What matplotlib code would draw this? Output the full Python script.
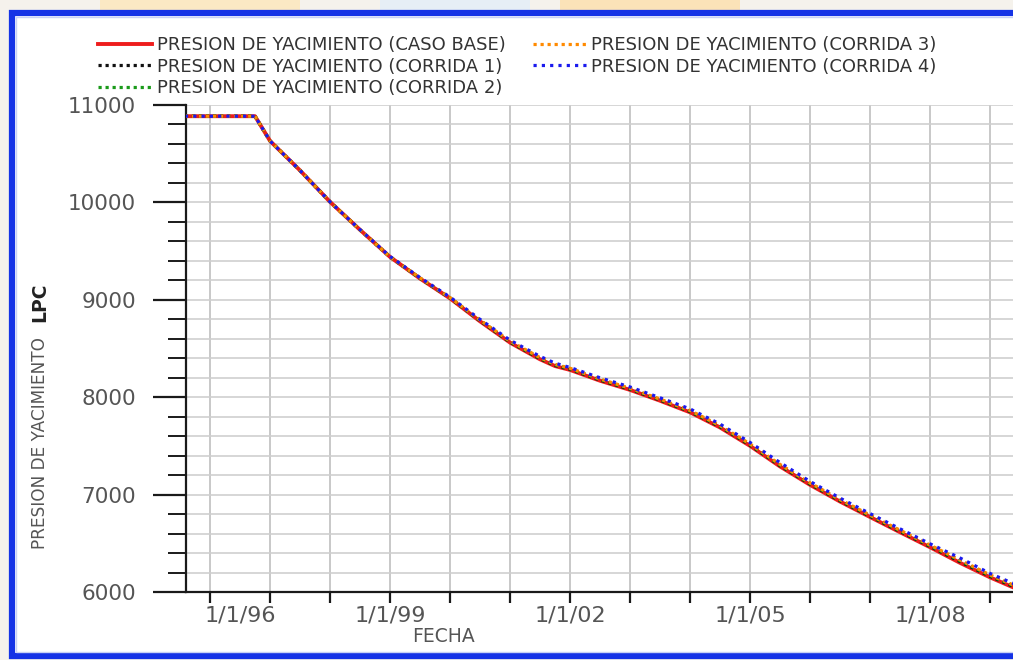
import matplotlib
matplotlib.use("Agg")
import matplotlib.pyplot as plt
import matplotlib.dates as mdates
import matplotlib.transforms as mtransforms
from matplotlib.patches import Rectangle
from matplotlib.ticker import MultipleLocator, FixedLocator

fechas = ['1995-08-01', '1996-10-01', '1997-01-01', '1997-07-01', '1998-01-01',
          '1998-07-01', '1999-01-01', '1999-07-01', '2000-01-01', '2000-07-01',
          '2001-01-01', '2001-07-01', '2001-10-01', '2002-01-01', '2002-07-01',
          '2003-01-01', '2003-07-01', '2004-01-01', '2004-07-01', '2005-01-01',
          '2005-07-01', '2006-01-01', '2006-07-01', '2007-01-01', '2007-07-01',
          '2008-01-01', '2008-07-01', '2009-01-01', '2009-06-01']

caso_base = [10885, 10885, 10630, 10330, 10005, 9720, 9440, 9220, 9015, 8780,
             8560, 8390, 8320, 8280, 8170, 8075, 7965, 7845, 7690, 7500,
             7290, 7100, 6930, 6770, 6615, 6460, 6300, 6150, 6040]
corrida_1 = [10885, 10885, 10630, 10330, 10005, 9720, 9440, 9222, 9018, 8785,
             8565, 8396, 8326, 8286, 8176, 8081, 7971, 7852, 7697, 7507,
             7297, 7107, 6937, 6777, 6622, 6468, 6312, 6160, 6050]
corrida_2 = [10885, 10885, 10630, 10330, 10005, 9720, 9440, 9224, 9020, 8790,
             8570, 8402, 8332, 8292, 8182, 8087, 7977, 7858, 7704, 7514,
             7304, 7114, 6944, 6784, 6630, 6475, 6322, 6168, 6058]
corrida_3 = [10885, 10885, 10630, 10330, 10005, 9720, 9440, 9226, 9022, 8792,
             8575, 8408, 8338, 8297, 8188, 8092, 7982, 7864, 7710, 7520,
             7311, 7120, 6950, 6790, 6636, 6482, 6330, 6175, 6065]
corrida_4 = [10885, 10885, 10630, 10330, 10005, 9722, 9445, 9230, 9028, 8800,
             8585, 8420, 8350, 8305, 8200, 8105, 7995, 7880, 7725, 7535,
             7330, 7135, 6965, 6805, 6650, 6495, 6350, 6190, 6080]

etiquetas = ['PRESION DE YACIMIENTO (CASO BASE)', 'PRESION DE YACIMIENTO (CORRIDA 1)',
             'PRESION DE YACIMIENTO (CORRIDA 2)', 'PRESION DE YACIMIENTO (CORRIDA 3)',
             'PRESION DE YACIMIENTO (CORRIDA 4)']
anios_ticks = list(range(1996, 2010))
anios_etiqueta = [1996, 1999, 2002, 2005, 2008]

W, H = 1013, 660
fig = plt.figure(figsize=(W / 100, H / 100), dpi=100)
fig.patch.set_facecolor('#f5f2ec')

# faded background strip above the frame
for (xa, wa, col) in [(100, 200, '#fbe9c4'), (560, 180, '#fbe3b8'), (380, 150, '#e6eef6')]:
    fig.add_artist(Rectangle((xa / W, 1 - 12 / H), wa / W, 12 / H, transform=fig.transFigure,
                             facecolor=col, edgecolor='none', zorder=-3))
# white panel with blue frame
fig.add_artist(Rectangle((12 / W, 1 - 656 / H), 1.1, 643 / H, transform=fig.transFigure,
                         facecolor='white', edgecolor='#1533e6', linewidth=4.5, zorder=-2))
fig.add_artist(Rectangle((16 / W, 1 - 652 / H), 1.1, 635 / H, transform=fig.transFigure,
                         facecolor='none', edgecolor='#c9d2f5', linewidth=1.0, zorder=-1))

ax_left, ax_right = 186, 1013
ax_top, ax_bottom = 105, 592
ax = fig.add_axes([ax_left / W, 1 - ax_bottom / H, (ax_right - ax_left) / W, (ax_bottom - ax_top) / H])
ax.set_facecolor('white')

x = mdates.datestr2num(fechas)
estilos = [
    (caso_base, dict(color='#ee1c1c', lw=2.8, ls='-')),
    (corrida_1, dict(color='#111111', lw=2.3, ls=(0, (1, 1.2)))),
    (corrida_2, dict(color='#1a9a1a', lw=2.3, ls=(0, (1, 1.2)))),
    (corrida_3, dict(color='#ff8a00', lw=2.3, ls=(0, (1, 1.2)))),
    (corrida_4, dict(color='#1a1aee', lw=2.3, ls=(0, (1, 1.6)))),
]
handles = []
for (serie, st), lab in zip(estilos, etiquetas):
    h, = ax.plot(x, serie, label=lab, zorder=3, **st)
    handles.append(h)

x0 = mdates.datestr2num('1996-01-01') - 0.4 * 365.25
x1 = mdates.datestr2num('1996-01-01') + (803 / 60) * 365.25
ax.set_xlim(x0, x1)
ax.set_ylim(6000, 11000)

xt = [mdates.datestr2num(f'{a}-01-01') for a in anios_ticks]
ax.xaxis.set_major_locator(FixedLocator(xt))
ax.set_xticklabels([f'1/1/{a % 100:02d}' if a in anios_etiqueta else '' for a in anios_ticks])
ax.yaxis.set_major_locator(MultipleLocator(1000))
ax.yaxis.set_minor_locator(MultipleLocator(200))

ax.grid(True, which='major', axis='x', color='#c4c4c4', lw=1.3)
ax.grid(True, which='both', axis='y', color='#cfcfcf', lw=1.2)
ax.set_axisbelow(True)

for s in ['top', 'right']:
    ax.spines[s].set_visible(False)
for s in ['left', 'bottom']:
    ax.spines[s].set_color('#1a1a1a')
    ax.spines[s].set_linewidth(1.6)

ax.tick_params(axis='y', which='major', length=24, width=1.6, color='#1a1a1a', pad=12,
               labelsize=15.5, labelcolor='#555555')
ax.tick_params(axis='y', which='minor', length=13, width=1.4, color='#1a1a1a')
ax.tick_params(axis='x', which='major', length=8, width=1.6, color='#1a1a1a', pad=2,
               labelsize=16, labelcolor='#555555')

leg = fig.legend(handles=handles, labels=etiquetas, loc='upper left',
                 bbox_to_anchor=(98 / W, 1 - 36 / H), ncol=2, frameon=False,
                 borderpad=0, borderaxespad=0, handlelength=3.0, handletextpad=0.25,
                 columnspacing=1.5, labelspacing=0.2,
                 prop={'family': ['Liberation Sans Narrow', 'DejaVu Sans'], 'size': 13})
for t in leg.get_texts():
    t.set_color('#333333')

fig.text(443 / W, 1 - 637 / H, 'FECHA', ha='center', va='center', fontsize=13.5,
         color='#555555')
fig.text(40 / W, 1 - 443 / H, 'PRESION DE YACIMIENTO', rotation=90, ha='center', va='center',
         fontsize=12.2, color='#555555', family=['Liberation Sans Narrow', 'DejaVu Sans'])
fig.text(40 / W, 1 - 302 / H, 'LPC', rotation=90, ha='center', va='center',
         fontsize=13.5, color='#222222', fontweight='bold')

# first date label sits shifted to the right of its tick, as in the original
primera = ax.xaxis.get_major_ticks()[0].label1
primera.set_transform(primera.get_transform() +
                      mtransforms.ScaledTranslation(0.30, 0, fig.dpi_scale_trans))

fig.savefig('out.png', dpi=100, facecolor=fig.get_facecolor())
